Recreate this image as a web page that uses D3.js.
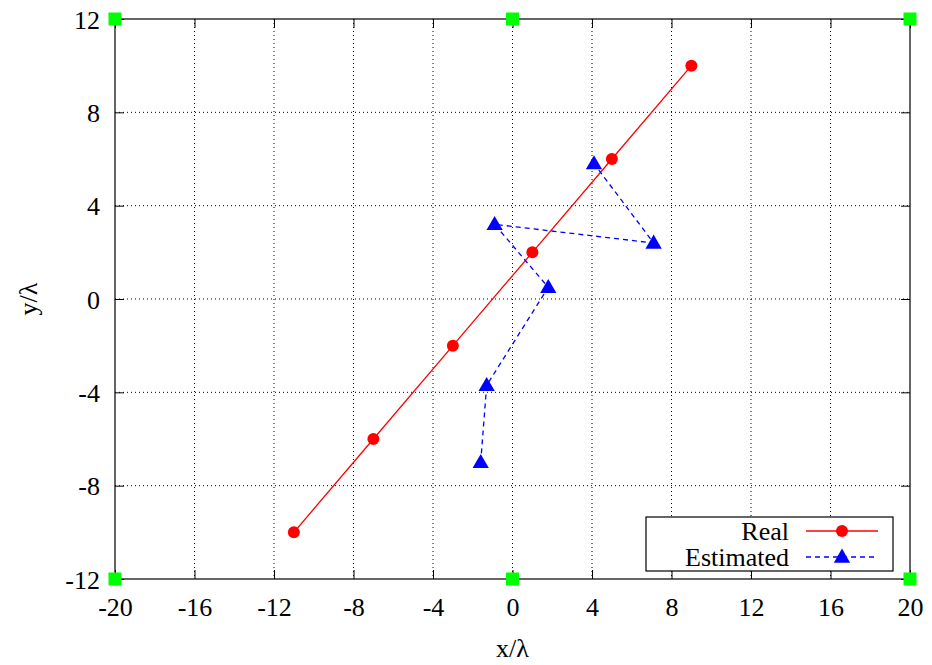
<!DOCTYPE html>
<html>
<head>
<meta charset="utf-8">
<script src="https://cdn.jsdelivr.net/npm/d3@7"></script>
<style>
  html, body { margin: 0; padding: 0; background: #fff; }
  svg text { font-family: "Liberation Serif", "DejaVu Serif", serif; }
</style>
</head>
<body>
<svg id="chart" width="932" height="665"></svg>
<script>
// Node positions of the real track and the estimated track (in wavelengths)
const realX = [-11, -7, -3, 1, 5, 9];
const realY = [-10, -6, -2, 2, 6, 10];
const estX = [-1.6, -1.3, 1.8, -0.9, 7.1, 4.1];
const estY = [-7.0, -3.7, 0.5, 3.2, 2.4, 5.8];
// Anchor (reference) nodes at the room boundary
const anchorX = [-20, 0, 20, -20, 0, 20];
const anchorY = [12, 12, 12, -12, -12, -12];
// Axis ticks
const xTicks = [-20, -16, -12, -8, -4, 0, 4, 8, 12, 16, 20];
const yTicks = [-12, -8, -4, 0, 4, 8, 12];
const seriesNames = ["Real", "Estimated"];

(function () {
const svg = d3.select("#chart");
const mL = 115, mR = 910, mT = 19, mB = 579;
const x = d3.scaleLinear().domain([-20, 20]).range([mL, mR]);
const y = d3.scaleLinear().domain([-12, 12]).range([mB, mT]);
const fontSize = 26;
const fmt = d => String(d);   // plain hyphen-minus for negatives

// Grid
const grid = svg.append("g");
grid.selectAll("line.gx").data(xTicks.slice(1, -1)).join("line")
  .attr("x1", d => x(d)).attr("x2", d => x(d))
  .attr("y1", mT).attr("y2", mB)
  .attr("stroke", "#000").attr("stroke-width", 1).attr("stroke-dasharray", "1,3");
grid.selectAll("line.gy").data(yTicks.slice(1, -1)).join("line")
  .attr("y1", d => y(d)).attr("y2", d => y(d))
  .attr("x1", mL).attr("x2", mR)
  .attr("stroke", "#000").attr("stroke-width", 1).attr("stroke-dasharray", "1,3");

// Axes with inward ticks on all four sides
const tl = 9;
const axB = svg.append("g").attr("transform", `translate(0,${mB})`)
  .call(d3.axisBottom(x).tickValues(xTicks).tickSize(-tl).tickFormat(fmt));
const axT = svg.append("g").attr("transform", `translate(0,${mT})`)
  .call(d3.axisTop(x).tickValues(xTicks).tickSize(-tl).tickFormat(""));
const axL = svg.append("g").attr("transform", `translate(${mL},0)`)
  .call(d3.axisLeft(y).tickValues(yTicks).tickSize(-tl).tickFormat(fmt));
const axR = svg.append("g").attr("transform", `translate(${mR},0)`)
  .call(d3.axisRight(y).tickValues(yTicks).tickSize(-tl).tickFormat(""));
[axB, axT, axL, axR].forEach(a => {
  a.attr("font-family", null).attr("font-size", null);
  a.select(".domain").remove();
  a.selectAll(".tick line").attr("stroke", "#000");
  a.selectAll("text").attr("font-size", fontSize).attr("fill", "#000");
});
axB.selectAll("text").attr("y", 28).attr("dy", "0.35em");
axL.selectAll("text").attr("x", -15).attr("dy", "0.35em");

// Plot border
svg.append("rect").attr("x", mL).attr("y", mT)
  .attr("width", mR - mL).attr("height", mB - mT)
  .attr("fill", "none").attr("stroke", "#000").attr("stroke-width", 1.2);

// Axis labels
svg.append("text").attr("x", (mL + mR) / 2).attr("y", 648).attr("dy", "0.35em")
  .attr("text-anchor", "middle").attr("font-size", fontSize).text("x/λ");
svg.append("text").attr("transform", `translate(28,${(mT + mB) / 2}) rotate(-90)`)
  .attr("dy", "0.35em").attr("text-anchor", "middle").attr("font-size", fontSize).text("y/λ");

const line = d3.line().x(d => x(d[0])).y(d => y(d[1]));
const realPts = realX.map((v, i) => [v, realY[i]]);
const estPts = estX.map((v, i) => [v, estY[i]]);
const tri = d3.symbol().type(d3.symbolTriangle).size(115);

// Real track
svg.append("path").datum(realPts).attr("d", line)
  .attr("fill", "none").attr("stroke", "#ff0000").attr("stroke-width", 1.3);
svg.selectAll("circle.real").data(realPts).join("circle")
  .attr("cx", d => x(d[0])).attr("cy", d => y(d[1])).attr("r", 6).attr("fill", "#ff0000");

// Estimated track
svg.append("path").datum(estPts).attr("d", line)
  .attr("fill", "none").attr("stroke", "#0000ff").attr("stroke-width", 1.3).attr("stroke-dasharray", "5,4");
svg.selectAll("path.est").data(estPts).join("path")
  .attr("d", tri).attr("transform", d => `translate(${x(d[0])},${y(d[1]) + 1})`).attr("fill", "#0000ff");

// Anchor nodes
svg.selectAll("rect.anchor").data(anchorX.map((v, i) => [v, anchorY[i]])).join("rect")
  .attr("x", d => x(d[0]) - 6.5).attr("y", d => y(d[1]) - 6.5)
  .attr("width", 13).attr("height", 13).attr("fill", "#00ff00");

// Legend
const lg = svg.append("g");
lg.append("rect").attr("x", 646).attr("y", 517).attr("width", 247).attr("height", 54)
  .attr("fill", "#fff").attr("stroke", "#000").attr("stroke-width", 1.2);
const rowY = [531, 557];
seriesNames.forEach((name, i) => {
  lg.append("text").attr("x", 789).attr("y", rowY[i]).attr("dy", "0.35em")
    .attr("text-anchor", "end").attr("font-size", fontSize).text(name);
  lg.append("line").attr("x1", 806).attr("x2", 878).attr("y1", rowY[i]).attr("y2", rowY[i])
    .attr("stroke", i === 0 ? "#ff0000" : "#0000ff").attr("stroke-width", 1.3)
    .attr("stroke-dasharray", i === 0 ? null : "5,4");
});
lg.append("circle").attr("cx", 842).attr("cy", rowY[0]).attr("r", 6).attr("fill", "#ff0000");
lg.append("path").attr("d", tri).attr("transform", `translate(842,${rowY[1] + 1})`).attr("fill", "#0000ff");
})();
</script>
</body>
</html>
